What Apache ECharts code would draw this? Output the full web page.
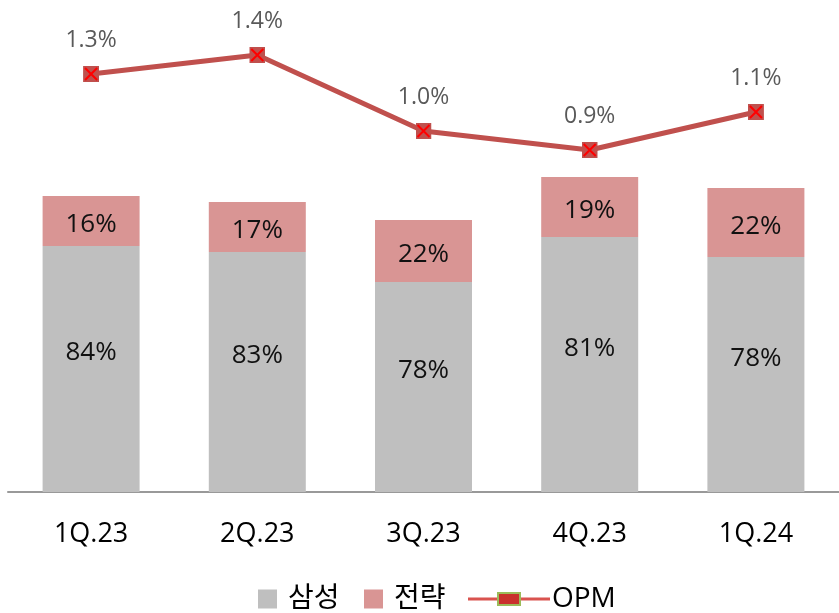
<!DOCTYPE html>
<html>
<head>
<meta charset="utf-8">
<script src="https://cdn.jsdelivr.net/npm/echarts@6/dist/echarts.min.js"></script>
<style>
html, body { margin: 0; padding: 0; background: #fff; }
#ech { width: 839px; height: 613px; }
</style>
</head>
<body>
<div id="ech"></div>
<script>
var categories = ['1Q.23', '2Q.23', '3Q.23', '4Q.23', '1Q.24'];
// bar segment sizes (relative units)
var samsung = [246, 240, 210, 255, 235];
var strategy = [50, 50, 62, 60, 69];
var samsungLabels = ['84%', '83%', '78%', '81%', '78%'];
var strategyLabels = ['16%', '17%', '22%', '19%', '22%'];
var opm = [1.3, 1.4, 1.0, 0.9, 1.1];

var FONT = '"Open Sans", "Noto Sans CJK KR", sans-serif';

var markSvg = '<svg xmlns="http://www.w3.org/2000/svg" width="16" height="16">' +
	'<rect x="0" y="0" width="16" height="16" fill="#C0504D"/>' +
	'<path d="M2 2 L14 14 M14 2 L2 14" stroke="#FF0000" stroke-width="2"/></svg>';
var markIcon = 'image://data:image/svg+xml;charset=utf-8,' + encodeURIComponent(markSvg);

var legendSvg = '<svg xmlns="http://www.w3.org/2000/svg" width="82" height="14">' +
	'<line x1="0" y1="7" x2="82" y2="7" stroke="#D9534F" stroke-width="3"/>' +
	'<rect x="30" y="1" width="22" height="12" fill="#C9302C" stroke="#9BBB59" stroke-width="2"/></svg>';
var legendIcon = 'image://data:image/svg+xml;charset=utf-8,' + encodeURIComponent(legendSvg);

var legendText = { fontSize: 28, color: '#000', fontFamily: FONT, padding: [0, 0, 0, 6] };

var myChart = echarts.init(document.getElementById('ech'));

var option = {
	animation: false,
	textStyle: { fontFamily: FONT },
	grid: { left: 8, top: 17, width: 835, height: 475 },
	legend: [{
		data: ['삼성'],
		left: 253,
		top: 580,
		itemWidth: 19,
		itemHeight: 19,
		icon: 'rect',
		textStyle: legendText
	}, {
		data: ['전략'],
		left: 359,
		top: 580,
		itemWidth: 19,
		itemHeight: 19,
		icon: 'rect',
		textStyle: legendText
	}, {
		data: [{ name: 'OPM', icon: legendIcon }],
		left: 463,
		top: 580,
		itemWidth: 82,
		itemHeight: 14,
		textStyle: { fontSize: 28, color: '#000', fontFamily: FONT, padding: [0, 0, 0, -3] }
	}],
	xAxis: {
		type: 'category',
		data: categories,
		axisLine: { lineStyle: { color: '#999', width: 2 } },
		axisTick: { show: false },
		axisLabel: { fontSize: 27, color: '#000', margin: 29, fontFamily: FONT }
	},
	yAxis: [{
		type: 'value',
		min: 0,
		max: 475,
		show: false,
		splitLine: { show: false }
	}, {
		type: 'value',
		min: -0.9,
		max: 1.6,
		show: false,
		splitLine: { show: false }
	}],
	series: [{
		name: '삼성',
		type: 'bar',
		stack: 'share',
		data: samsung,
		barWidth: 97,
		itemStyle: { color: '#BFBFBF' },
		label: {
			show: true,
			position: 'inside',
			offset: [0, -16],
			fontSize: 26,
			color: '#111',
			fontFamily: FONT,
			formatter: function (p) { return samsungLabels[p.dataIndex]; }
		}
	}, {
		name: '전략',
		type: 'bar',
		stack: 'share',
		data: strategy,
		barWidth: 97,
		itemStyle: { color: '#D99594' },
		label: {
			show: true,
			position: 'inside',
			offset: [0, 4],
			fontSize: 26,
			color: '#111',
			fontFamily: FONT,
			formatter: function (p) { return strategyLabels[p.dataIndex]; }
		}
	}, {
		name: 'OPM',
		type: 'line',
		yAxisIndex: 1,
		data: opm,
		symbol: markIcon,
		symbolSize: 16,
		lineStyle: { color: '#C0504D', width: 5 },
		itemStyle: { color: '#C0504D' },
		label: {
			show: true,
			position: 'top',
			distance: 14,
			fontSize: 23,
			color: '#595959',
			fontFamily: FONT,
			formatter: function (p) { return p.value.toFixed(1) + '%'; }
		}
	}]
};

myChart.setOption(option);
</script>
</body>
</html>
